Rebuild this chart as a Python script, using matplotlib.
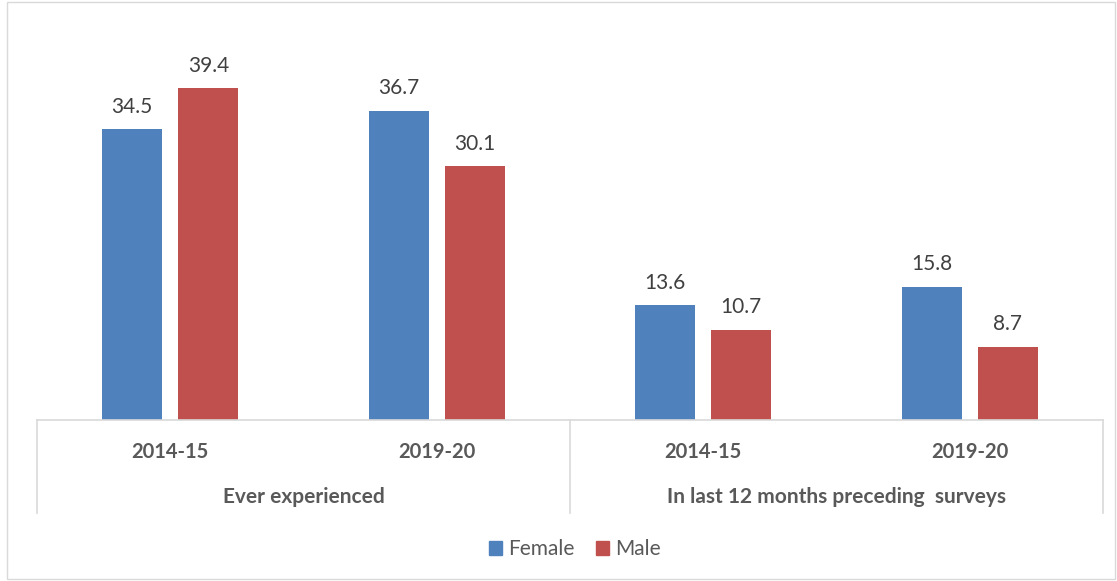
import matplotlib.pyplot as plt
from matplotlib.patches import Patch, Rectangle

# data
years = ['2014-15', '2019-20', '2014-15', '2019-20']
groups = ['Ever experienced', 'In last 12 months preceding  surveys']
female = [34.5, 36.7, 13.6, 15.8]
male = [39.4, 30.1, 10.7, 8.7]

blue = '#4F81BD'
red = '#C0504D'
grid_col = '#D9D9D9'
tick_col = '#595959'
label_col = '#404040'

plt.rcParams['font.family'] = ['Lato', 'DejaVu Sans']

W, H = 1117, 581
fig = plt.figure(figsize=(W / 100, H / 100), dpi=100)

# axes placed in pixel terms
left, right, bottom, top = 37, 1103, 420, 41
ax = fig.add_axes([left / W, 1 - bottom / H, (right - left) / W, (bottom - top) / H])

x = list(range(len(years)))
bw = 0.225
off = 0.143
bars_f = ax.bar([i - off for i in x], female, width=bw, color=blue)
bars_m = ax.bar([i + off for i in x], male, width=bw, color=red)

for bars, vals in ((bars_f, female), (bars_m, male)):
    for b, v in zip(bars, vals):
        ax.annotate(f'{v:.1f}', (b.get_x() + b.get_width() / 2, v),
                    xytext=(0, 9), textcoords='offset points',
                    ha='center', va='bottom', fontsize=15, color=label_col)

ax.set_xlim(-0.5, 3.5)
ax.set_ylim(0, 45)
ax.axis('off')

# category axis: base line + separators
depth = -(513 - bottom) / (bottom - top)
ax.plot([0, 1], [0, 0], transform=ax.transAxes, color=grid_col, lw=1.2, clip_on=False)
for xs in (0, 0.5, 1):
    ax.plot([xs, xs], [0, depth], transform=ax.transAxes, color=grid_col, lw=1.2, clip_on=False)

y_year = -(452 - bottom) / (bottom - top)
y_grp = -(497 - bottom) / (bottom - top)
for i, yr in enumerate(years):
    ax.text((i + 0.5) / 4, y_year, yr, transform=ax.transAxes, ha='center', va='center',
            fontsize=14.5, fontweight='bold', color=tick_col)
for j, g in enumerate(groups):
    ax.text(0.25 + 0.5 * j, y_grp, g, transform=ax.transAxes, ha='center', va='center',
            fontsize=15, fontweight='bold', color=tick_col)

# legend
handles = [Patch(color=blue, label='Female'), Patch(color=red, label='Male')]
fig.legend(handles=handles, loc='center', bbox_to_anchor=(575 / W, 1 - 549 / H),
           ncol=2, frameon=False, fontsize=15, handlelength=0.65, handleheight=0.65,
           handletextpad=0.3, columnspacing=1.0, labelcolor=tick_col)

# chart border
fig.patches.append(Rectangle((7 / W, 2 / H), (1115 - 7) / W, (579 - 2) / H,
                             transform=fig.transFigure, fill=False, ec=grid_col, lw=1))

fig.savefig('out.png', dpi=100)
